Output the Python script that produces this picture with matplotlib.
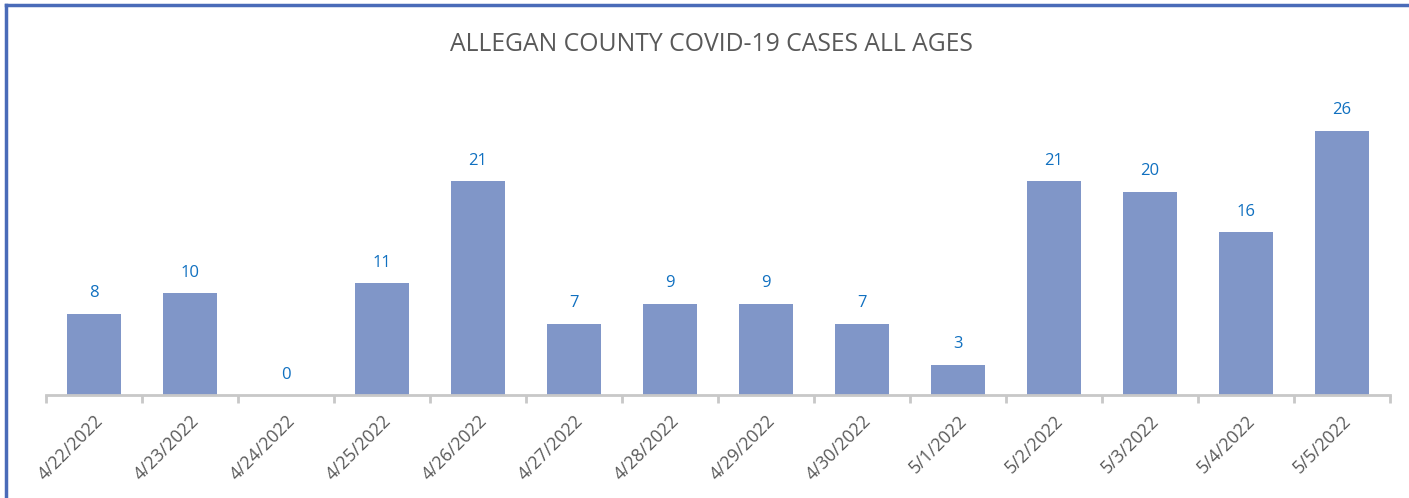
import matplotlib.pyplot as plt
from matplotlib.lines import Line2D

dates = ["4/22/2022", "4/23/2022", "4/24/2022", "4/25/2022", "4/26/2022",
         "4/27/2022", "4/28/2022", "4/29/2022", "4/30/2022", "5/1/2022",
         "5/2/2022", "5/3/2022", "5/4/2022", "5/5/2022"]
cases = [8, 10, 0, 11, 21, 7, 9, 9, 7, 3, 21, 20, 16, 26]

plt.rcParams['font.family'] = ['Open Sans', 'DejaVu Sans']

fig = plt.figure(figsize=(14.09, 4.98), dpi=100)
ax = fig.add_axes([46 / 1409, 103 / 498, 1344 / 1409, 305 / 498])

x = list(range(len(dates)))
bars = ax.bar(x, cases, width=0.56, color="#8096C8")

for xi, v in zip(x, cases):
    ax.annotate(str(v), (xi, v), xytext=(0, 9), textcoords="offset points",
                ha="center", va="bottom", color="#1070C0", fontsize=12)

ax.set_xlim(-0.5, len(dates) - 0.5)
ax.set_ylim(0, 30)

# labels at centres, tick marks at category boundaries
ax.set_xticks(x)
ax.set_xticklabels(dates, rotation=45, ha="right", rotation_mode="anchor",
                   color="#595959", fontsize=12.7)
ax.tick_params(axis="x", which="major", length=0, pad=12)
ax.set_xticks([i - 0.5 for i in range(len(dates) + 1)], minor=True)
ax.tick_params(axis="x", which="minor", length=6, width=2, color="#C8C8C8")
ax.set_yticks([])

for s in ["top", "right", "left"]:
    ax.spines[s].set_visible(False)
ax.spines["bottom"].set_color("#C8C8C8")
ax.spines["bottom"].set_linewidth(2)

fig.text(0.505, 0.91, "ALLEGAN COUNTY COVID-19 CASES ALL AGES",
         ha="center", va="center", fontsize=17.8, color="#595959")

# outer frame (top and left edges visible in the crop)
fig.add_artist(Line2D([6 / 1409, 6 / 1409], [0, 1 - 5 / 498],
                      transform=fig.transFigure, color="#4A6BB8", lw=2.5))
fig.add_artist(Line2D([6 / 1409, 1], [1 - 5 / 498, 1 - 5 / 498],
                      transform=fig.transFigure, color="#4A6BB8", lw=2.5))

fig.savefig("out.png", dpi=100)
